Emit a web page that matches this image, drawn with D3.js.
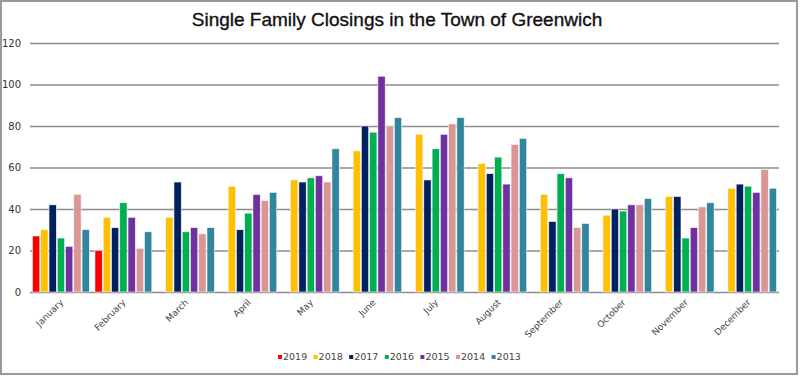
<!DOCTYPE html>
<html>
<head>
<meta charset="utf-8">
<script src="https://cdn.jsdelivr.net/npm/d3@7"></script>
<style>
    html, body { margin: 0; padding: 0; background: #fff; }
    #chart { width: 800px; height: 376px; }
</style>
</head>
<body>
<div id="chart"></div>
<script>
(function () {

    var months = ["January", "February", "March", "April", "May", "June",
                  "July", "August", "September", "October", "November", "December"];
    var years  = ["2019", "2018", "2017", "2016", "2015", "2014", "2013"];
    var colors = ["#ff0000", "#ffc000", "#002060", "#00b050", "#7030a0", "#da9694", "#31859c"];

    // closings per month, one array per year (null = no data yet)
    var y2019 = [27, 20, null, null, null, null, null, null, null, null, null, null];
    var y2018 = [30, 36, 36, 51, 54, 68, 76, 62, 47, 37, 46, 50];
    var y2017 = [42, 31, 53, 30, 53, 80, 54, 57, 34, 40, 46, 52];
    var y2016 = [26, 43, 29, 38, 55, 77, 69, 65, 57, 39, 26, 51];
    var y2015 = [22, 36, 31, 47, 56, 104, 76, 52, 55, 42, 31, 48];
    var y2014 = [47, 21, 28, 44, 53, 80, 81, 71, 31, 42, 41, 59];
    var y2013 = [30, 29, 31, 48, 69, 84, 84, 74, 33, 45, 43, 50];
    var series = [y2019, y2018, y2017, y2016, y2015, y2014, y2013];

    var yTicks = [0, 20, 40, 60, 80, 100, 120];

    var W = 800, H = 376;
    var plot = { left: 30, right: 779, top: 43, bottom: 292 };

    var svg = d3.select("#chart").append("svg")
        .attr("width", W)
        .attr("height", H);

    // frame
    svg.append("rect")
        .attr("x", 1).attr("y", 1)
        .attr("width", W - 4).attr("height", H - 3)
        .attr("fill", "#fff")
        .attr("stroke", "#9a9a9a")
        .attr("stroke-width", 2);

    /* scales */
    var x0 = d3.scaleBand()
        .domain(months)
        .range([plot.left, plot.right])
        .paddingInner(0.09)
        .paddingOuter(0.04);

    var x1 = d3.scaleBand()
        .domain(years)
        .range([0, x0.bandwidth()])
        .paddingInner(0.12);

    var y = d3.scaleLinear()
        .domain([0, 120])
        .range([plot.bottom, plot.top]);

    /* grid + y axis */
    var yAxis = svg.append("g")
        .attr("class", "axis axis-y")
        .attr("transform", "translate(" + plot.left + ",0)")
        .call(d3.axisLeft(y)
            .tickValues(yTicks)
            .tickSize(-(plot.right - plot.left))
            .tickPadding(9));
    yAxis.select(".domain").remove();
    yAxis.selectAll(".tick line")
        .attr("stroke", "#8c8c8c")
        .attr("stroke-width", 1.4);
    yAxis.selectAll(".tick text")
        .style("font-family", "'DejaVu Sans', Verdana, sans-serif")
        .style("font-size", "10px")
        .style("fill", "#333");

    /* bars */
    var rows = [];
    months.forEach(function (m, i) {
        years.forEach(function (yr, j) {
            if (series[j][i] !== null) rows.push({ month: m, year: yr, value: series[j][i], color: colors[j] });
        });
    });

    svg.append("g").attr("class", "bars")
        .selectAll("rect")
        .data(rows)
        .enter().append("rect")
        .attr("x", function (d) { return x0(d.month) + x1(d.year); })
        .attr("y", function (d) { return y(d.value); })
        .attr("width", x1.bandwidth())
        .attr("height", function (d) { return y(0) - y(d.value); })
        .attr("fill", function (d) { return d.color; })
        .attr("stroke", "#f4f4f4")
        .attr("stroke-width", 0.6);

    /* x axis labels */
    var xAxis = svg.append("g")
        .attr("class", "axis axis-x")
        .attr("transform", "translate(0," + plot.bottom + ")")
        .call(d3.axisBottom(x0).tickSize(0).tickPadding(0));
    xAxis.select(".domain").remove();
    xAxis.selectAll(".tick text")
        .attr("text-anchor", "end")
        .attr("dy", 0)
        .attr("transform", "translate(3,11) rotate(-45)")
        .style("font-family", "'DejaVu Sans', Verdana, sans-serif")
        .style("font-size", "9px")
        .style("fill", "#444");

    /* title */
    svg.append("text")
        .attr("x", 397).attr("y", 26)
        .attr("text-anchor", "middle")
        .style("font-family", "'Liberation Sans Narrow', 'Liberation Sans', sans-serif")
        .style("font-size", "19px")
        .style("fill", "#111")
        .style("stroke", "#111")
        .style("stroke-width", 0.35)
        .text("Single Family Closings in the Town of Greenwich");

    /* legend */
    var legend = svg.append("g")
        .attr("class", "chart-legend")
        .attr("transform", "translate(278,356)");

    years.forEach(function (yr, i) {
        var g = legend.append("g").attr("transform", "translate(" + (i * 35.6) + ",0)");
        g.append("rect")
            .attr("width", 4).attr("height", 4)
            .attr("y", -1)
            .attr("fill", colors[i]);
        g.append("text")
            .attr("x", 5).attr("y", 3.5)
            .style("font-family", "'DejaVu Sans', Verdana, sans-serif")
            .style("font-size", "9.5px")
            .style("fill", "#444")
            .text(yr);
    });

}());
</script>
</body>
</html>
